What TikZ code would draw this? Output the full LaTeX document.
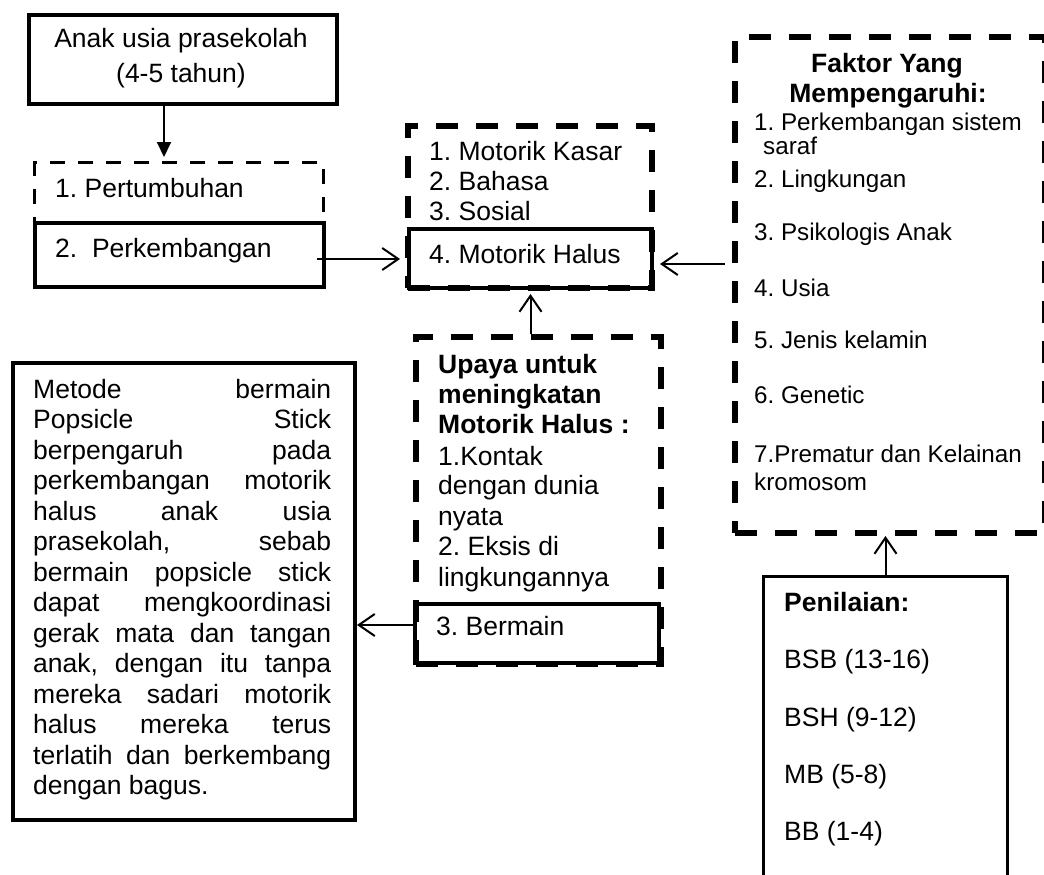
\documentclass[tikz,border=0pt]{standalone}
\usepackage{fontspec}
\setmainfont{Liberation Sans}
\usetikzlibrary{arrows.meta,calc}
\newcommand{\fsz}{\fontsize{26.5}{30.5}\selectfont\frenchspacing}
\newcommand{\fszs}{\fontsize{24.2}{28}\selectfont\frenchspacing}
\begin{document}
\frenchspacing
\begin{tikzpicture}[x=1pt,y=-1pt,
  box/.style={draw, line width=4pt, inner sep=0pt, anchor=north west},
  thinbox/.style={draw, line width=3pt, inner sep=0pt, anchor=north west},
  dashbox/.style={draw, line width=6pt, dash pattern=on 22pt off 18pt, inner sep=0pt, anchor=north west},
  tdashbox/.style={draw, line width=3pt, dash pattern=on 15pt off 13pt, inner sep=0pt, anchor=north west},
  txt/.style={anchor=base west, inner sep=0pt, font=\fsz},
  stxt/.style={anchor=base west, inner sep=0pt, font=\fszs},
  ctxt/.style={anchor=base, inner sep=0pt, font=\fsz},
  arr/.style={line width=2pt, -{Straight Barb[length=16pt,width=22pt,line width=2pt]}},
  farr/.style={line width=2pt, -{Triangle[length=15pt,width=14pt]}}
]
\useasboundingbox (0,0) rectangle (1044,875);

% boxes
\node[box, minimum width=308pt, minimum height=89pt] (anak) at (27,13) {};
\node[tdashbox, minimum width=289pt, minimum height=124pt] (pert) at (33,161) {};
\node[box, minimum width=289pt, minimum height=64pt] (perk) at (33,221) {};
\node[dashbox, minimum width=244pt, minimum height=162pt] (mot) at (405,123) {};
\node[box, minimum width=243pt, minimum height=59pt] (mh) at (407,227) {};
\node[dashbox, minimum width=310pt, minimum height=496pt] (fak) at (732,34) {};
\node[dashbox, minimum width=245pt, minimum height=327pt] (upaya) at (413,334) {};
\node[box, minimum width=244pt, minimum height=59pt] (berm) at (413,602) {};
\node[box, minimum width=342pt, minimum height=457pt] (metode) at (11,361) {};
\node[thinbox, minimum width=244pt, minimum height=330pt] (pen) at (762,575) {};

% texts
\node[ctxt] (t1) at (181,48) {Anak usia prasekolah};
\node[ctxt] (t2) at (181,82) {(4-5 tahun)};
\node[txt] (t3) at (55,197) {1. Pertumbuhan};
\node[txt] (t4) at (55,257) {2.~ Perkembangan};

\node[txt] (m1) at (429,160) {1. Motorik Kasar};
\node[txt] (m2) at (429,190) {2. Bahasa};
\node[txt] (m3) at (429,220) {3. Sosial};
\node[txt] (m4) at (429,263) {4. Motorik Halus};

\node[ctxt, font=\fsz\bfseries] (f0) at (887,73) {Faktor Yang};
\node[ctxt, font=\fsz\bfseries] (f00) at (888,102) {Mempengaruhi:};
\node[stxt] (f1) at (754,130) {1.~Perkembangan sistem};
\node[stxt] (f1b) at (763,154) {saraf};
\node[stxt] (f2) at (754,187) {2. Lingkungan};
\node[stxt] (f3) at (754,240) {3. Psikologis Anak};
\node[stxt] (f4) at (754,296) {4. Usia};
\node[stxt] (f5) at (754,348) {5. Jenis kelamin};
\node[stxt] (f6) at (754,403) {6. Genetic};
\node[stxt] (f7) at (754,462) {7.Prematur dan Kelainan};
\node[stxt] (f7b) at (754,490) {kromosom};

\node[txt, font=\fsz\bfseries] (u1) at (438,373) {Upaya untuk};
\node[txt, font=\fsz\bfseries] (u2) at (438,403) {meningkatan};
\node[txt, font=\fsz\bfseries] (u3) at (438,433) {Motorik Halus :};
\node[txt] (u4) at (438,465) {1.Kontak};
\node[txt] (u5) at (438,494) {dengan dunia};
\node[txt] (u6) at (438,525) {nyata};
\node[txt] (u7) at (438,555) {2. Eksis di};
\node[txt] (u8) at (438,586) {lingkungannya};

\node[txt] (b1) at (436,635) {3. Bermain};

\node[txt, font=\fsz\bfseries] (p0) at (784,611) {Penilaian:};
\node[txt] (p1) at (784,668) {BSB (13-16)};
\node[txt] (p2) at (784,726) {BSH (9-12)};
\node[txt] (p3) at (784,783) {MB (5-8)};
\node[txt] (p4) at (784,840) {BB (1-4)};

\foreach \t [count=\i from 0] in {{Metode bermain},{Popsicle Stick},{berpengaruh pada},{perkembangan motorik},{halus anak usia},{prasekolah, sebab},{bermain popsicle stick},{dapat mengkoordinasi},{gerak mata dan tangan},{anak, dengan itu tanpa},{mereka sadari motorik},{halus mereka terus},{terlatih dan berkembang}}
  \node[txt] (lb\i) at (33,{398+30.5*\i}) {\makebox[298pt][s]{\t}};
\node[txt] (lb13) at (33,{398+30.5*13}) {dengan bagus.};

% connectors
\coordinate (a1) at ($(anak.south)+(-19,0)$);
\draw[farr, shorten >=4pt] (a1) -- (a1 |- pert.north);
\coordinate (a2) at ($(perk.east)+(-9,4)$);
\draw[arr, shorten >=7pt] (a2) -- (a2 -| mh.west);
\coordinate (a3) at ($(fak.west |- mh.east)+(-7,5.5)$);
\draw[arr, shorten >=6pt] (a3) -- (a3 -| mh.east);
\draw[arr, shorten >=4pt] (mh.south |- upaya.north) -- (mh.south);
\coordinate (a5) at ($(berm.west)+(0,-8.5)$);
\draw[arr] (a5) -- (a5 -| metode.east);
\draw[arr] (pen.north) -- (pen.north |- fak.south);
\end{tikzpicture}
\end{document}
